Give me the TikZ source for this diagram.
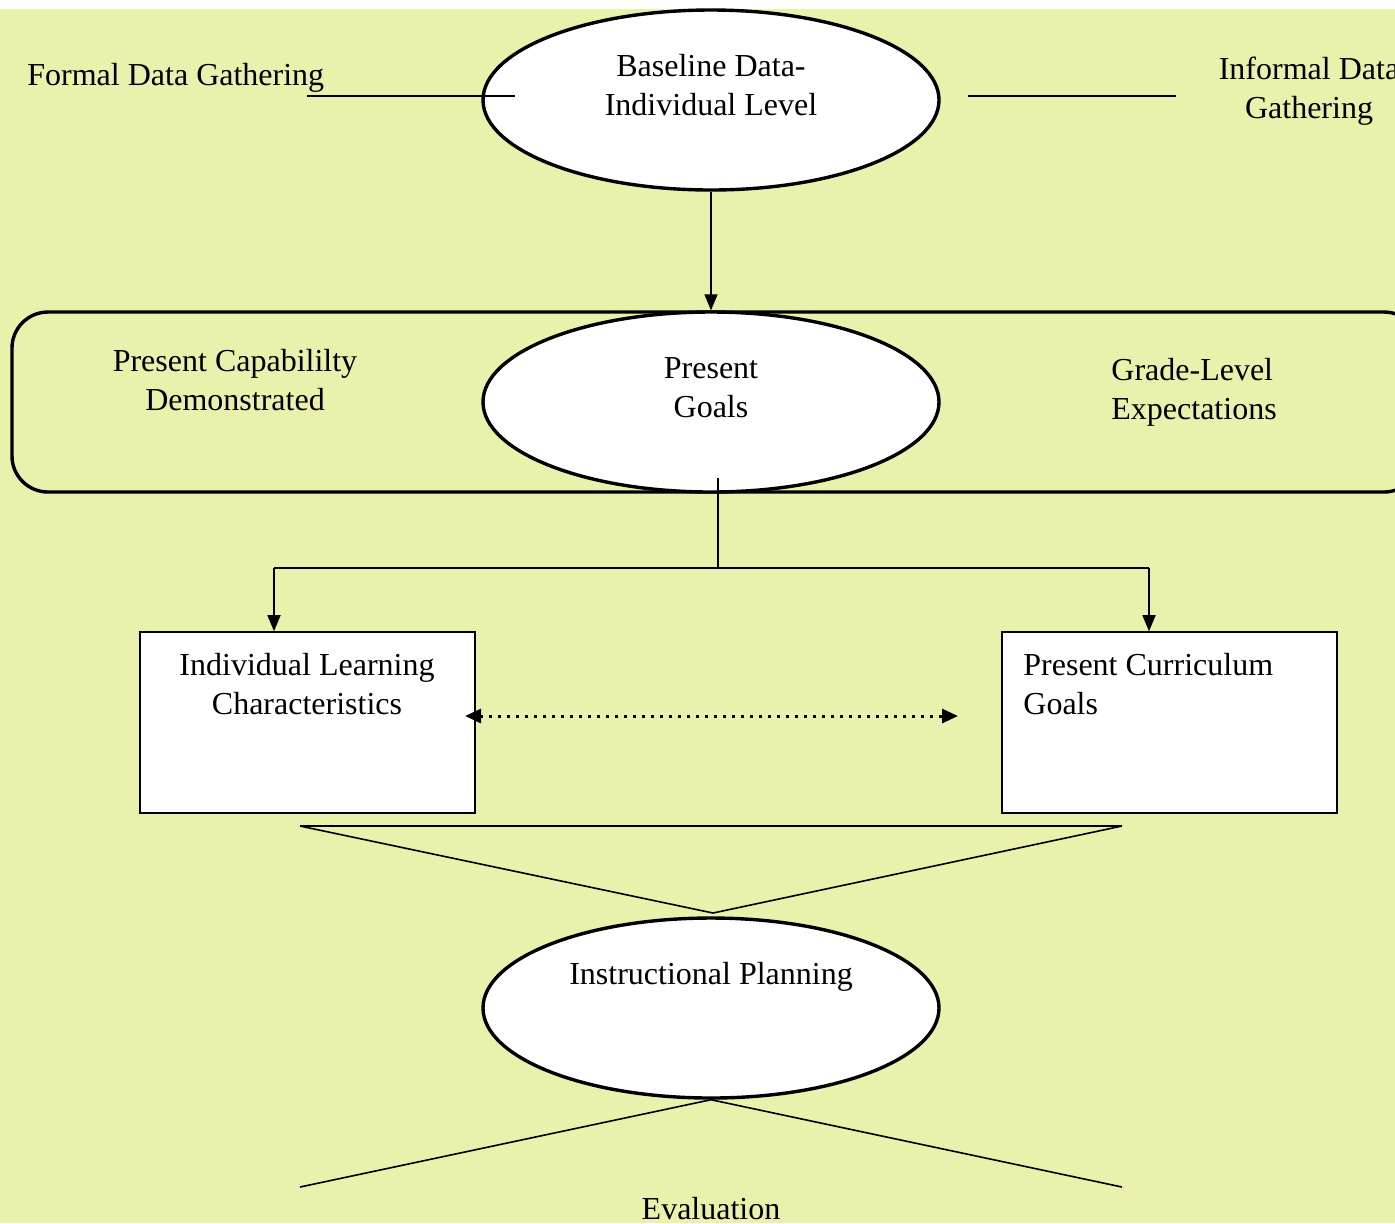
\documentclass[tikz,border=0pt]{standalone}
\usepackage{fontspec}
\setmainfont{Liberation Serif}
\usetikzlibrary{arrows.meta,shapes.geometric}
\definecolor{bgc}{HTML}{EAF1AC}
\tikzset{
  thick line/.style={line width=1.7pt},
  thin line/.style={line width=0.8pt},
  oval/.style={ellipse, draw, thick line, fill=white, minimum width=228pt, minimum height=90pt, inner sep=0pt},
  boxnode/.style={rectangle, draw, thin line, fill=white, minimum width=167.5pt, minimum height=90.5pt, inner sep=0pt},
  txt/.style={font=\fontsize{16}{19.5}\selectfont, align=center, inner sep=0pt},
  tip/.style={Triangle[length=8pt,width=6.5pt]},
  arr/.style={thin line, -{Triangle[length=8pt,width=6.5pt]}},
}
\begin{document}
\begin{tikzpicture}[x=0.5pt,y=-0.5pt]
\useasboundingbox (0,0) rectangle (1395,1223);
\fill[white] (0,0) rectangle (1395,1223);
\fill[bgc] (0,9) rectangle (1395,1223);
% rounded frame
\draw[thick line, rounded corners=18pt] (12,312) rectangle (1420,492);
% ellipses
\node[oval] (b1) at (711,100) {};
\node[oval] (pg) at (711,402) {};
\node[oval] (ip) at (711,1008) {};
% texts
\node[txt] (tb1) at (711,85) {Baseline Data-\\Individual Level};
\node[txt, anchor=west] (tfd) at (27,78) {Formal Data Gathering};
\node[txt] (tid) at (1309,91) {Informal Data\\Gathering};
\node[txt] (tpg) at (711,388) {Present\\Goals};
\node[txt] (tpc) at (235,380) {Present Capabililty\\Demonstrated};
\node[txt, anchor=west, align=left] (tgl) at (1111,392.5) {Grade-Level\\Expectations};
\node[txt] (tip) at (711,977) {Instructional Planning};
\node[txt] (tev) at (711,1209) {Evaluation};
% boxes
\node[boxnode] (ilc) at (307.5,722.5) {};
\node[boxnode] (pcg) at (1169.5,722.5) {};
\node[txt] (tilc) at (307,684) {Individual Learning\\Characteristics};
\node[txt, anchor=west, align=left] (tpcg) at (1023,684) {Present Curriculum\\Goals};
% top side lines
\coordinate (fl1) at (307,96);
\coordinate (fl2) at (515,96);
\coordinate (il1) at (968,96);
\coordinate (il2) at (1176,96);
\draw[thin line] (fl1) -- (fl2);
\draw[thin line] (il1) -- (il2);
% arrow baseline -> present goals
\draw[arr] (b1.south) -- (pg.north);
% branch
\coordinate (br0) at (718,478);
\coordinate (br1) at (718,568);
\coordinate (brl) at (274,568);
\coordinate (brr) at (1149,568);
\draw[thin line] (br0) -- (br1);
\draw[thin line] (brl) -- (brr);
\draw[arr] (brl) -- (brl |- ilc.north);
\draw[arr] (brr) -- (brr |- pcg.north);
% dotted double arrow
\coordinate (d1) at (465,716);
\coordinate (d2) at (958,716);
\draw[line width=1.5pt, dash pattern=on 1.5pt off 3pt, {Triangle[length=8pt,width=7pt]}-{Triangle[length=8pt,width=7pt]}] (d1) -- (d2);
% funnel to instructional planning
\coordinate (f1) at (300,826);
\coordinate (f2) at (1122,826);
\coordinate (f3) at (713,913);
\draw[thin line] (f1) -- (f2);
\draw[thin line] (f1) -- (f3) -- (f2);
% evaluation lines
\coordinate (e1) at (300,1187);
\coordinate (e2) at (1122,1187);
\draw[thin line] (e1) -- (ip.south) -- (e2);
\end{tikzpicture}
\end{document}
